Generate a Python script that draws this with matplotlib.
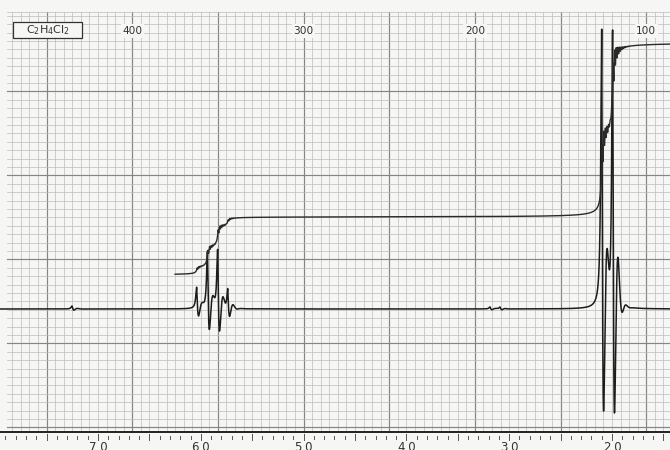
import numpy as np
import matplotlib
matplotlib.use("Agg")
import matplotlib.pyplot as plt
from matplotlib.patches import Rectangle

# 60 MHz proton spectrum of 1,1-dichloroethane (CH3-CHCl2)
# lines: chemical shift (ppm) and peak height (chart divisions above baseline)
quartet_ppm = [6.040, 5.935, 5.836, 5.738]
quartet_height = [21, 57, 60, 21]
quartet_integral = [7.2, 21.8, 21.8, 7.2]

doublet_ppm = [2.100, 1.994]
doublet_height = [277, 280]
doublet_integral = [87, 87]

trace_ppm = [7.253, 3.187, 3.090]
trace_height = [3, 2, 2]

baseline = 123.0
integral_base = 157.0
integral_start_ppm = 6.25

hz_labels = [400, 300, 200, 100]
ppm_labels = [7, 6, 5, 4, 3, 2]
formula = r"$\mathregular{C_2H_4Cl_2}$"

SPEC_MHZ = 60.0
PX_PER_PPM = 102.8
X_LEFT, X_RIGHT = 7.9533, 1.4358
PAPER = "#f6f6f4"
INK = "#1c1c1c"
MINOR = "#bcbcbc"
MAJOR = "#858585"


def absorption(ppm, p0, h):
    """Lorentzian line plus the damped ringing left behind by a fast sweep."""
    d = (p0 - ppm) * PX_PER_PPM
    w = 1.1
    out = h * w * w / (w * w + d * d)
    a = d > 0
    out[a] += -1.36 * h * np.exp(-d[a] / 2.5) * np.sin(2 * np.pi * d[a] / 8.0)
    return out


def integral_step(ppm, p0, s, h):
    d = (p0 - ppm) * PX_PER_PPM
    out = s * (0.5 + np.arctan(d / 1.2) / np.pi)
    a = d > 0
    out[a] += 0.065 * h * np.exp(-d[a] / 3.5) * np.sin(2 * np.pi * d[a] / 1.6)
    return out


fig = plt.figure(figsize=(6.7, 4.5), dpi=100, facecolor=PAPER)
ax = fig.add_axes([0, 0, 1, 1])
ax.set_facecolor(PAPER)
ax.set_xlim(X_LEFT, X_RIGHT)
ax.set_ylim(-18, 432)
ax.axis("off")

# chart paper: 5 Hz divisions, heavier every 50 Hz
grid_left = X_LEFT - 7 / PX_PER_PPM
for hz in range(0, 500, 5):
    x = hz / SPEC_MHZ
    if x > grid_left or x < X_RIGHT:
        continue
    bold = hz % 50 == 0
    ax.plot([x, x], [0, 420], color=MAJOR if bold else MINOR,
            lw=0.85 if bold else 0.5, zorder=1)
for k in range(0, 50):
    y = 4.6 + 8.4 * k
    if y > 420:
        break
    bold = k % 10 == 0
    ax.plot([grid_left, X_RIGHT], [y, y], color=MAJOR if bold else MINOR,
            lw=0.85 if bold else 0.5, zorder=1)
ax.plot([grid_left, X_RIGHT], [420, 420], color=MINOR, lw=0.5, zorder=1)

# ppm scale along the bottom
ax.plot([X_LEFT, X_RIGHT], [0, 0], color="#222222", lw=1.4, zorder=3)
for i in range(14, 80):
    x = i / 10
    if x < X_RIGHT or x > X_LEFT:
        continue
    big = i % 5 == 0
    ax.plot([x, x], [-2, -8] if big else [-4, -7], color="#555555",
            lw=0.7, zorder=3)
for v in ppm_labels:
    ax.text(v, -9.0, f"{v:.1f}", ha="center", va="top", fontsize=8.5,
            color="#333333", family="DejaVu Sans")

# Hz scale along the top
for hz in hz_labels:
    ax.text(hz / SPEC_MHZ, 401, str(hz), ha="center", va="center", fontsize=7.6,
            color="#333333", family="DejaVu Sans", zorder=4,
            bbox=dict(boxstyle="square,pad=0.15", fc=PAPER, ec="none"))

# sample label box
ax.add_patch(Rectangle((13 / 670, 1 - 38 / 450), 69 / 670, 16 / 450,
                       transform=ax.transAxes, fc=PAPER, ec="#333333",
                       lw=0.9, zorder=4))
ax.text(47.5 / 670, 1 - 30 / 450, formula, transform=ax.transAxes,
        ha="center", va="center", fontsize=8, color="#333333", zorder=5)

# spectrum trace
ppm = np.linspace(X_LEFT, X_RIGHT, 24000)
spec = np.full_like(ppm, baseline)
for p0, h in zip(quartet_ppm + doublet_ppm + trace_ppm,
                 quartet_height + doublet_height + trace_height):
    spec += absorption(ppm, p0, h)
ax.plot(ppm, spec, color=INK, lw=1.1, zorder=6)

# integral trace
ip = ppm[ppm <= integral_start_ppm]
integ = np.full_like(ip, integral_base)
for p0, s, h in zip(quartet_ppm + doublet_ppm,
                    quartet_integral + doublet_integral,
                    quartet_height + doublet_height):
    integ += integral_step(ip, p0, s, h)
ax.plot(ip, integ, color="#2a2a2a", lw=1.0, zorder=6)

fig.savefig("out.png", dpi=100, facecolor=PAPER)
